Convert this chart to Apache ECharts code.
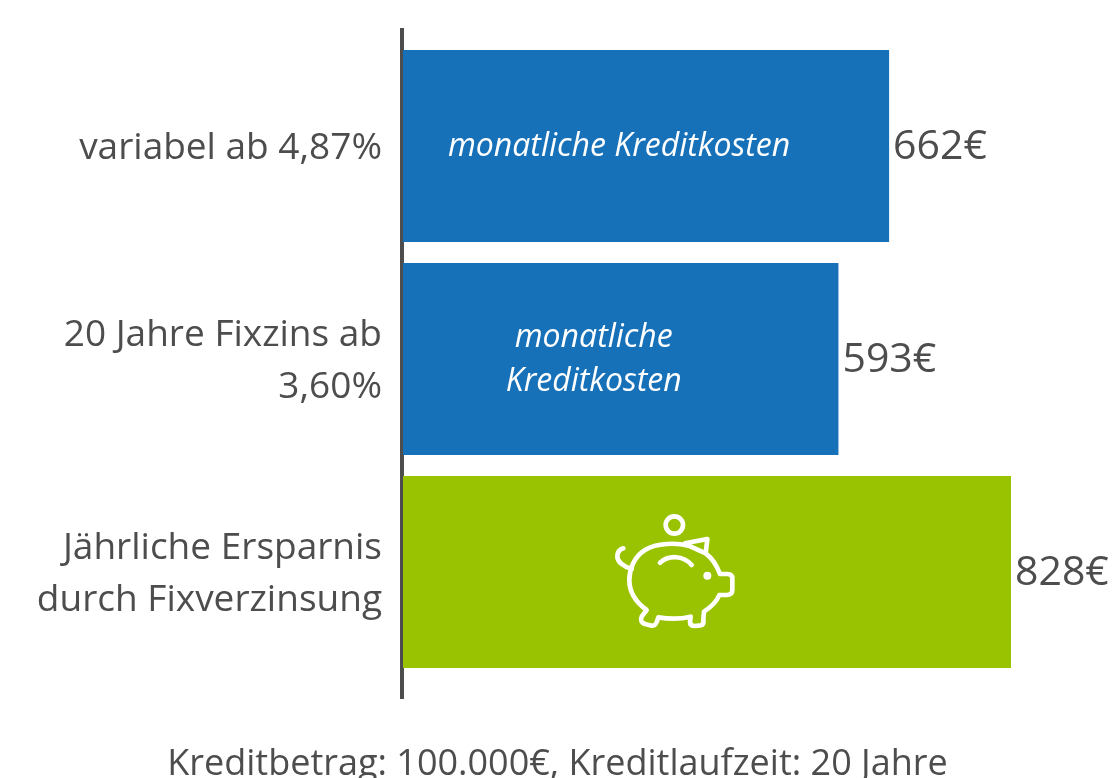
<!DOCTYPE html>
<html lang="de">
<head>
    <meta charset="UTF-8">
    <title>Kreditkosten</title>
    <style>
        body { margin: 0; padding: 0; background: #fff; }
        #chart { width: 1115px; height: 778px; }
    </style>
</head>
<body>
<div id="chart"></div>
<script src="https://cdn.jsdelivr.net/npm/echarts@6/dist/echarts.min.js"></script>
<script>
    const categories = ["variabel ab 4,87%", "20 Jahre Fixzins ab\n3,60%", "Jährliche Ersparnis\ndurch Fixverzinsung"];
    const values = [662, 593, 828];
    const barColors = ["#1771b9", "#1771b9", "#99c200"];
    const barTexts = ["monatliche Kreditkosten", "monatliche\nKreditkosten", ""];
    const footnote = "Kreditbetrag: 100.000€, Kreditlaufzeit: 20 Jahre";
    const font = "Open Sans";
    const grey = "#4d4d4d";

    const chart = echarts.init(document.getElementById("chart"));

    // piggy bank icon, traced in a 3x box
    const pigLine = { fill: "none", stroke: "#fff", lineWidth: 14, lineCap: "round", lineJoin: "round" };
    const pigBody = "M285,130 L352,117 L347,160 C367,175 380,195 390,222 L412,222 C422,222 427,226 427,235 L427,270 C427,280 422,285 410,285 L388,285 C380,305 365,320 342,335 L340,358 C342,368 340,374 332,376 L315,378 C306,378 300,375 300,365 L302,350 C270,358 240,358 205,352 C200,372 195,378 185,377 L165,372 C155,368 150,362 155,350 L170,330 C135,305 118,275 118,240 C118,210 130,172 165,150 C200,128 260,128 296,137 L347,160";
    const pigTail = "M125,207 C100,200 82,185 82,170 C82,155 90,148 100,145";
    const pigSmile = "M210,188 C235,165 280,165 305,195";

    function renderPig(params, api) {
        const c = api.coord([api.value(0), api.value(1)]);
        return {
            type: "group",
            x: c[0] - 117,
            y: c[1] - 72,
            scaleX: 1 / 3,
            scaleY: 1 / 3,
            children: [
                { type: "circle", shape: { cx: 253, cy: 75, r: 26 }, style: pigLine },
                { type: "path", shape: { pathData: pigBody }, style: pigLine },
                { type: "path", shape: { pathData: pigTail }, style: pigLine },
                { type: "path", shape: { pathData: pigSmile }, style: pigLine },
                { type: "circle", shape: { cx: 352, cy: 227, r: 12 }, style: { fill: "#fff" } }
            ]
        };
    }

    chart.setOption({
        animation: false,
        backgroundColor: "#fff",
        // second grid only carries the category labels, a bit lower than the bars
        grid: [
            { left: 403, top: 39.5, width: 608, height: 639 },
            { left: 403, top: 42, width: 608, height: 639 }
        ],
        xAxis: [
            { type: "value", min: 0, max: 828, show: false },
            { type: "value", min: 0, max: 828, show: false, gridIndex: 1 }
        ],
        yAxis: [
            {
                type: "category",
                inverse: true,
                data: categories,
                axisLine: { show: false },
                axisTick: { show: false },
                axisLabel: { show: false }
            },
            {
                type: "category",
                gridIndex: 1,
                inverse: true,
                data: categories,
                axisLine: { show: false },
                axisTick: { show: false },
                axisLabel: { color: grey, fontFamily: font, fontSize: 37, lineHeight: 52, margin: 21, align: "right" }
            }
        ],
        series: [
            {
                type: "bar",
                barWidth: 192,
                data: values.map((v, i) => ({ value: v, itemStyle: { color: barColors[i] } })),
                label: {
                    show: true,
                    position: "right",
                    distance: 4,
                    offset: [0, 1],
                    color: grey,
                    fontFamily: font,
                    fontSize: 41,
                    formatter: "{c}€"
                }
            },
            {
                type: "bar",
                barWidth: 192,
                barGap: "-100%",
                silent: true,
                itemStyle: { color: "transparent" },
                data: values,
                label: {
                    show: true,
                    position: "inside",
                    offset: [-27, 1],
                    color: "#fff",
                    fontFamily: font,
                    fontStyle: "italic",
                    fontSize: 32,
                    lineHeight: 44,
                    formatter: (p) => barTexts[p.dataIndex]
                }
            },
            {
                type: "custom",
                silent: true,
                clip: false,
                z: 10,
                encode: { x: 0, y: 1 },
                data: [[414, categories[2]]],
                renderItem: renderPig
            }
        ],
        graphic: [
            {
                type: "line",
                shape: { x1: 402, y1: 28, x2: 402, y2: 699 },
                style: { stroke: grey, lineWidth: 4 }
            },
            {
                type: "text",
                left: "center",
                top: 747,
                style: { text: footnote, fill: grey, fontFamily: font, fontSize: 36 }
            }
        ]
    });
</script>
</body>
</html>
